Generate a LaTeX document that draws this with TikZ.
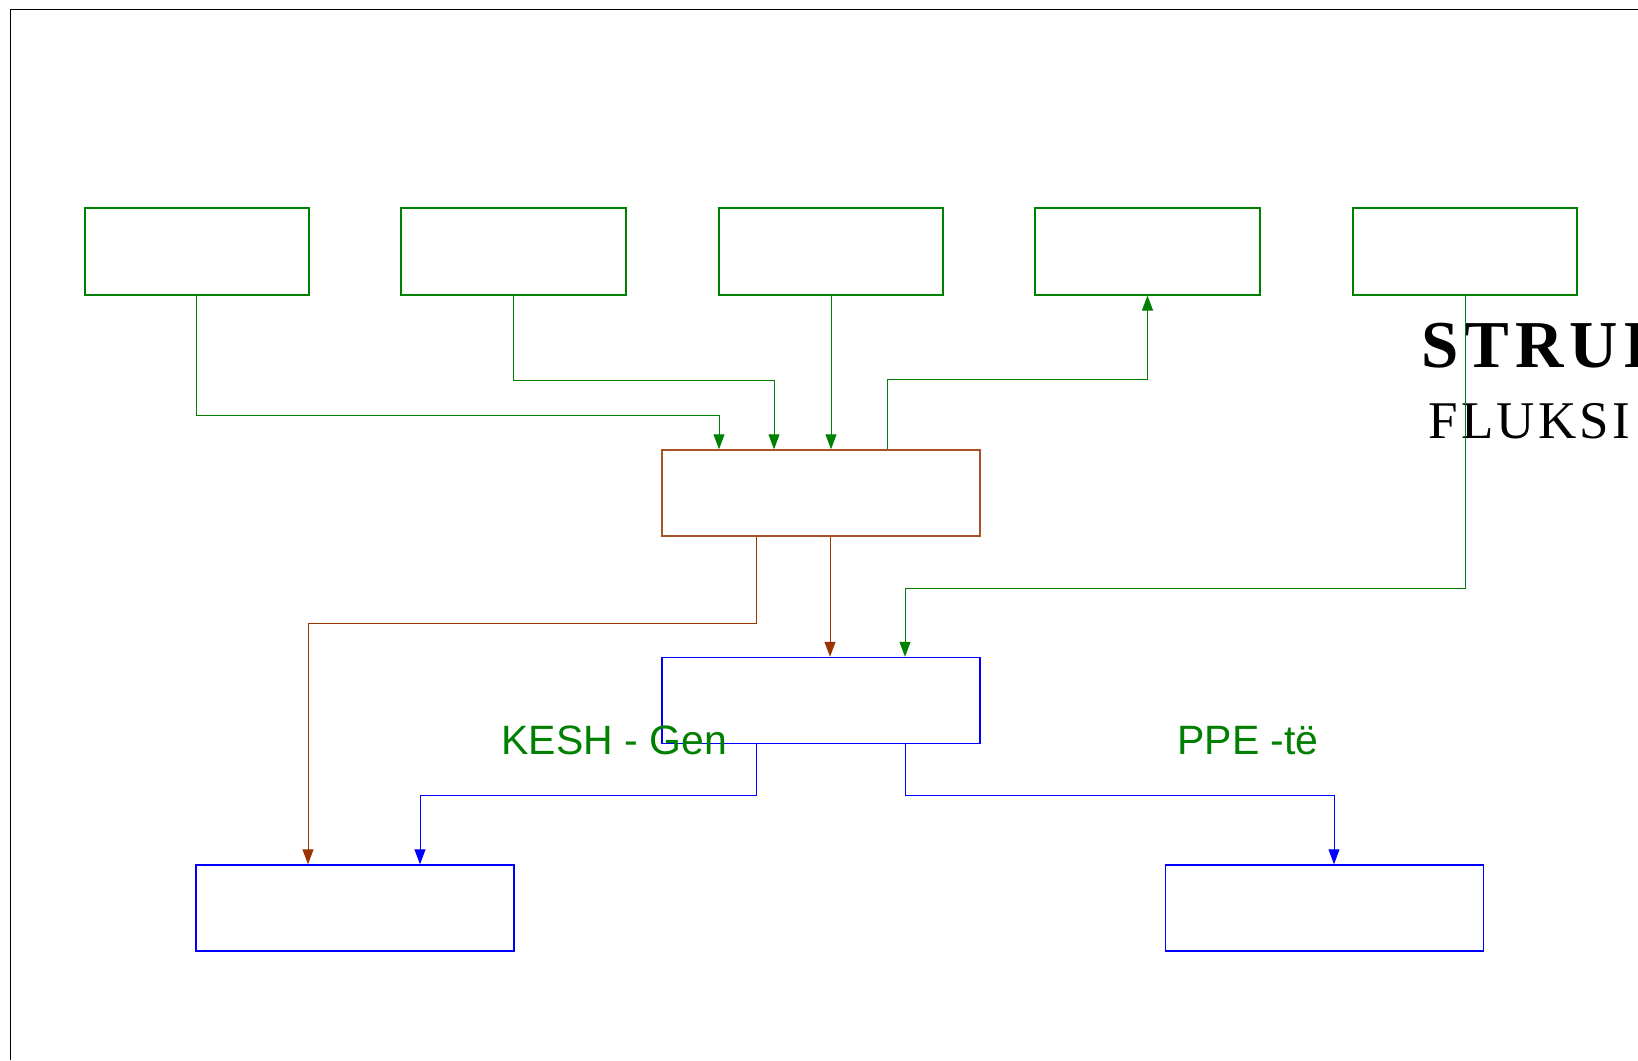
\documentclass[tikz,border=0pt]{standalone}
\usepackage{fontspec}
\setmainfont{Liberation Serif}
\newfontfamily\arialfont{Liberation Sans}
\usetikzlibrary{arrows.meta,calc}
\definecolor{dkgreen}{RGB}{0,128,0}
\definecolor{rust}{RGB}{153,51,0}

\begin{document}
\begin{tikzpicture}[x=0.5pt,y=-0.5pt,
	gbox/.style={draw=dkgreen,line width=1pt,minimum width=112.2pt,minimum height=43.3pt,inner sep=0pt},
	rbox/.style={draw=rust!85!white,line width=0.75pt,minimum width=159pt,minimum height=43pt,inner sep=0pt},
	bbox/.style={draw=blue,line width=0.75pt,minimum width=159pt,minimum height=43pt,inner sep=0pt},
	garrow/.style={draw=dkgreen,line width=0.5pt,-{Triangle[length=7.5pt,width=5.5pt]}},
	rarrow/.style={draw=rust,line width=0.5pt,-{Triangle[length=7.5pt,width=5.5pt]}},
	barrow/.style={draw=blue,line width=0.5pt,-{Triangle[length=7.5pt,width=5.5pt]}},
	label/.style={anchor=base west,inner sep=0pt}]
	\useasboundingbox (0,0) rectangle (1638,1060);
	\draw[line width=0.6pt] (10.5,1060) |- (1638,9.4);
	% top row
	\node[gbox] (g1) at (196.8,251.3) {};
	\node[gbox] (g2) at (513.5,251.3) {};
	\node[gbox] (g3) at (831,251.3) {};
	\node[gbox] (g4) at (1147.5,251.3) {};
	\node[gbox] (g5) at (1465,251.3) {};
	\node[rbox] (hub) at (821,493) {};
	\node[bbox] (mid) at (821,700.5) {};
	\node[bbox] (left) at (355,908) {};
	\node[bbox] (right) at (1324.5,908) {};
	% titles
	\node[label,font=\bfseries\fontsize{33.5}{40}\selectfont\addfontfeature{LetterSpace=9}] (title) at (1421,367) {STRUK};
	\node[label,font=\fontsize{26.5}{30}\selectfont\addfontfeature{LetterSpace=6}] (subtitle) at (1428,438) {FLUKSI};
	\node[label,font=\arialfont\fontsize{20.5}{24}\selectfont,text=dkgreen] (kesh) at (501,754) {KESH - Gen};
	\node[label,font=\arialfont\fontsize{20.5}{24}\selectfont,text=dkgreen] (ppe) at (1177,754) {PPE -të};
	% arrows
	\draw[garrow] (g1.south) -- ++(0,120) -| ($(hub.north)+(-102,0)$);
	\draw[garrow] (g2.south) -- ++(0,85) -| ($(hub.north)+(-47,0)$);
	\draw[garrow] (g3.south) -- (g3.south |- hub.north);
	\draw[garrow] ($(hub.north)+(66,0)$) -- ++(0,-70) -| (g4.south);
	\draw[garrow] (g5.south) -- ++(0,293) -| ($(mid.north)+(84,0)$);
	\draw[rarrow] ($(hub.south)+(-65,0)$) -- ++(0,86.5) -| ($(left.north)+(-47,0)$);
	\draw[rarrow] ($(hub.south)+(9,0)$) -- ($(mid.north)+(9,0)$);
	\draw[barrow] ($(mid.south)+(-65,0)$) -- ++(0,51) -| ($(left.north)+(65,0)$);
	\draw[barrow] ($(mid.south)+(84,0)$) -- ++(0,51) -| ($(right.north)+(9.5,0)$);
\end{tikzpicture}
\end{document}
